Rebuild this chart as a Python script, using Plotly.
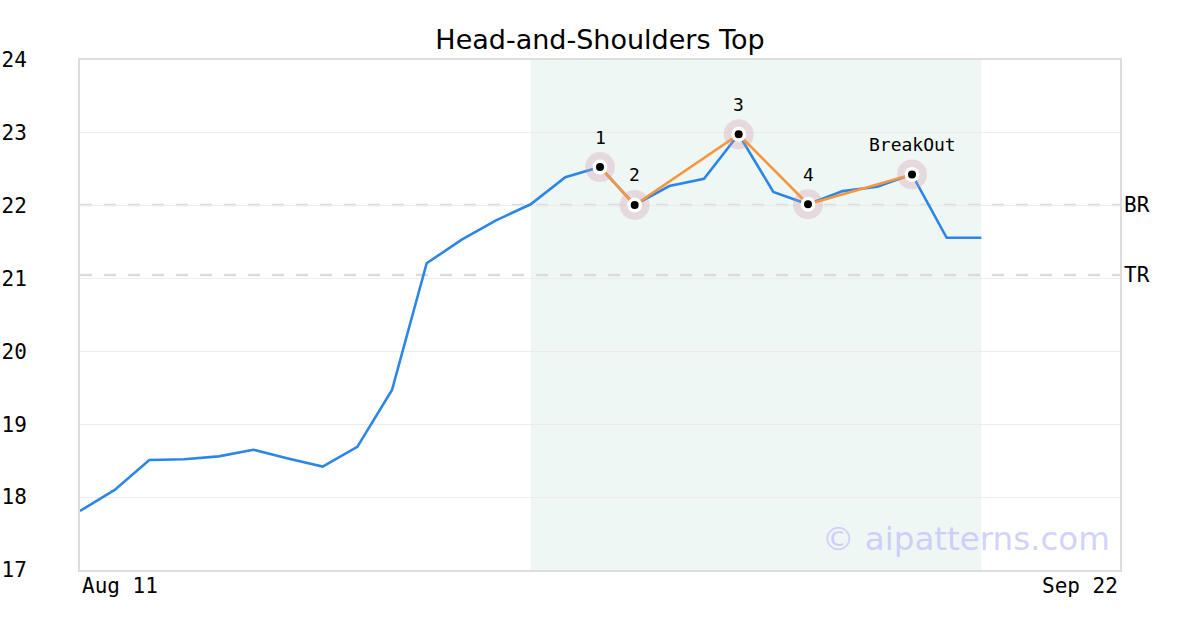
import plotly.graph_objects as go

# ---- data ----
prices = [17.81, 18.10, 18.51, 18.52, 18.56, 18.65, 18.53, 18.42, 18.69, 19.47,
          21.21, 21.53, 21.80, 22.02, 22.39, 22.53, 22.01, 22.27, 22.37, 22.98,
          22.19, 22.02, 22.20, 22.26, 22.43, 21.56, 21.56]
x_idx = list(range(len(prices)))
x_range = [0, 30]
x_tick_vals = [0, 30]
x_tick_text = ["Aug 11", "Sep 22"]
y_tick_vals = [17, 18, 19, 20, 21, 22, 23, 24]

pattern_idx = [15, 16, 19, 21, 24]
pattern_labels = ["1", "2", "3", "4", "BreakOut"]
pattern_vals = [prices[i] for i in pattern_idx]

shade_range = [13, 26]
level_names = ["BR", "TR"]
level_vals = [22.01, 21.05]

MONO = "DejaVu Sans Mono"
SANS = "DejaVu Sans"

fig = go.Figure()

# shaded pattern region
fig.add_shape(type="rect", xref="x", yref="paper", x0=shade_range[0], x1=shade_range[1],
              y0=0, y1=1, fillcolor="rgb(239,247,244)", line_width=0, layer="below")

# level lines
for v in level_vals:
    fig.add_shape(type="line", xref="paper", yref="y", x0=0, x1=1, y0=v, y1=v,
                  line=dict(color="#dcdcdc", width=2.5, dash="12px,12px"), layer="below")

fig.add_trace(go.Scatter(x=x_idx, y=prices, mode="lines",
                         line=dict(color="#2b86e8", width=2.6), hoverinfo="skip"))
fig.add_trace(go.Scatter(x=pattern_idx, y=pattern_vals, mode="markers",
                         marker=dict(size=30, color="rgba(205,150,170,0.30)"), hoverinfo="skip"))
fig.add_trace(go.Scatter(x=pattern_idx, y=pattern_vals, mode="lines",
                         line=dict(color="#f7963f", width=2.6), hoverinfo="skip"))
fig.add_trace(go.Scatter(x=pattern_idx, y=pattern_vals, mode="markers",
                         marker=dict(size=15, color="white"), hoverinfo="skip"))
fig.add_trace(go.Scatter(x=pattern_idx, y=pattern_vals, mode="markers",
                         marker=dict(size=8, color="black"), hoverinfo="skip"))

annotations = []
for i, v, t in zip(pattern_idx, pattern_vals, pattern_labels):
    annotations.append(dict(x=i, y=v, xref="x", yref="y", text=t, showarrow=False,
                            yshift=30, font=dict(family=MONO, size=18, color="black")))
for n, v in zip(level_names, level_vals):
    annotations.append(dict(x=1, y=v, xref="paper", yref="y", text=n, showarrow=False,
                            xanchor="left", xshift=2, font=dict(family=MONO, size=21, color="black")))
annotations.append(dict(x=x_tick_vals[0], y=0, xref="x", yref="paper", text=x_tick_text[0],
                        showarrow=False, xanchor="left", yanchor="top", yshift=-2,
                        font=dict(family=MONO, size=21, color="black")))
annotations.append(dict(x=x_tick_vals[1], y=0, xref="x", yref="paper", text=x_tick_text[1],
                        showarrow=False, xanchor="right", yanchor="top", yshift=-2,
                        font=dict(family=MONO, size=21, color="black")))
annotations.append(dict(x=1, y=0, xref="paper", yref="paper", text="© aipatterns.com",
                        showarrow=False, xanchor="right", yanchor="bottom", xshift=-8, yshift=10,
                        font=dict(family=SANS, size=32.5, color="rgba(190,190,250,0.7)")))

fig.update_layout(
    width=1200, height=630,
    margin=dict(l=80, r=80, t=60, b=60),
    paper_bgcolor="white", plot_bgcolor="white",
    showlegend=False,
    title=dict(text="Head-and-Shoulders Top", x=0.5, xanchor="center",
               y=1 - 40 / 630, yanchor="middle", yref="container",
               font=dict(family=SANS, size=27, color="black")),
    annotations=annotations,
    xaxis=dict(range=x_range, showgrid=False, zeroline=False, showticklabels=False,
               showline=True, linecolor="#dddddd", linewidth=2, mirror=True, ticks="",
               automargin=False),
    yaxis=dict(range=[17, 24], tickvals=y_tick_vals, showgrid=True, gridcolor="#ebebeb",
               gridwidth=1, zeroline=False, showline=True, linecolor="#dddddd", linewidth=2,
               mirror=True, ticks="", ticklabelstandoff=47, automargin=False,
               tickfont=dict(family=MONO, size=21, color="black")),
)

fig.write_html("out.html", config={"displayModeBar": False},
               post_script="document.body.style.margin='0';")
